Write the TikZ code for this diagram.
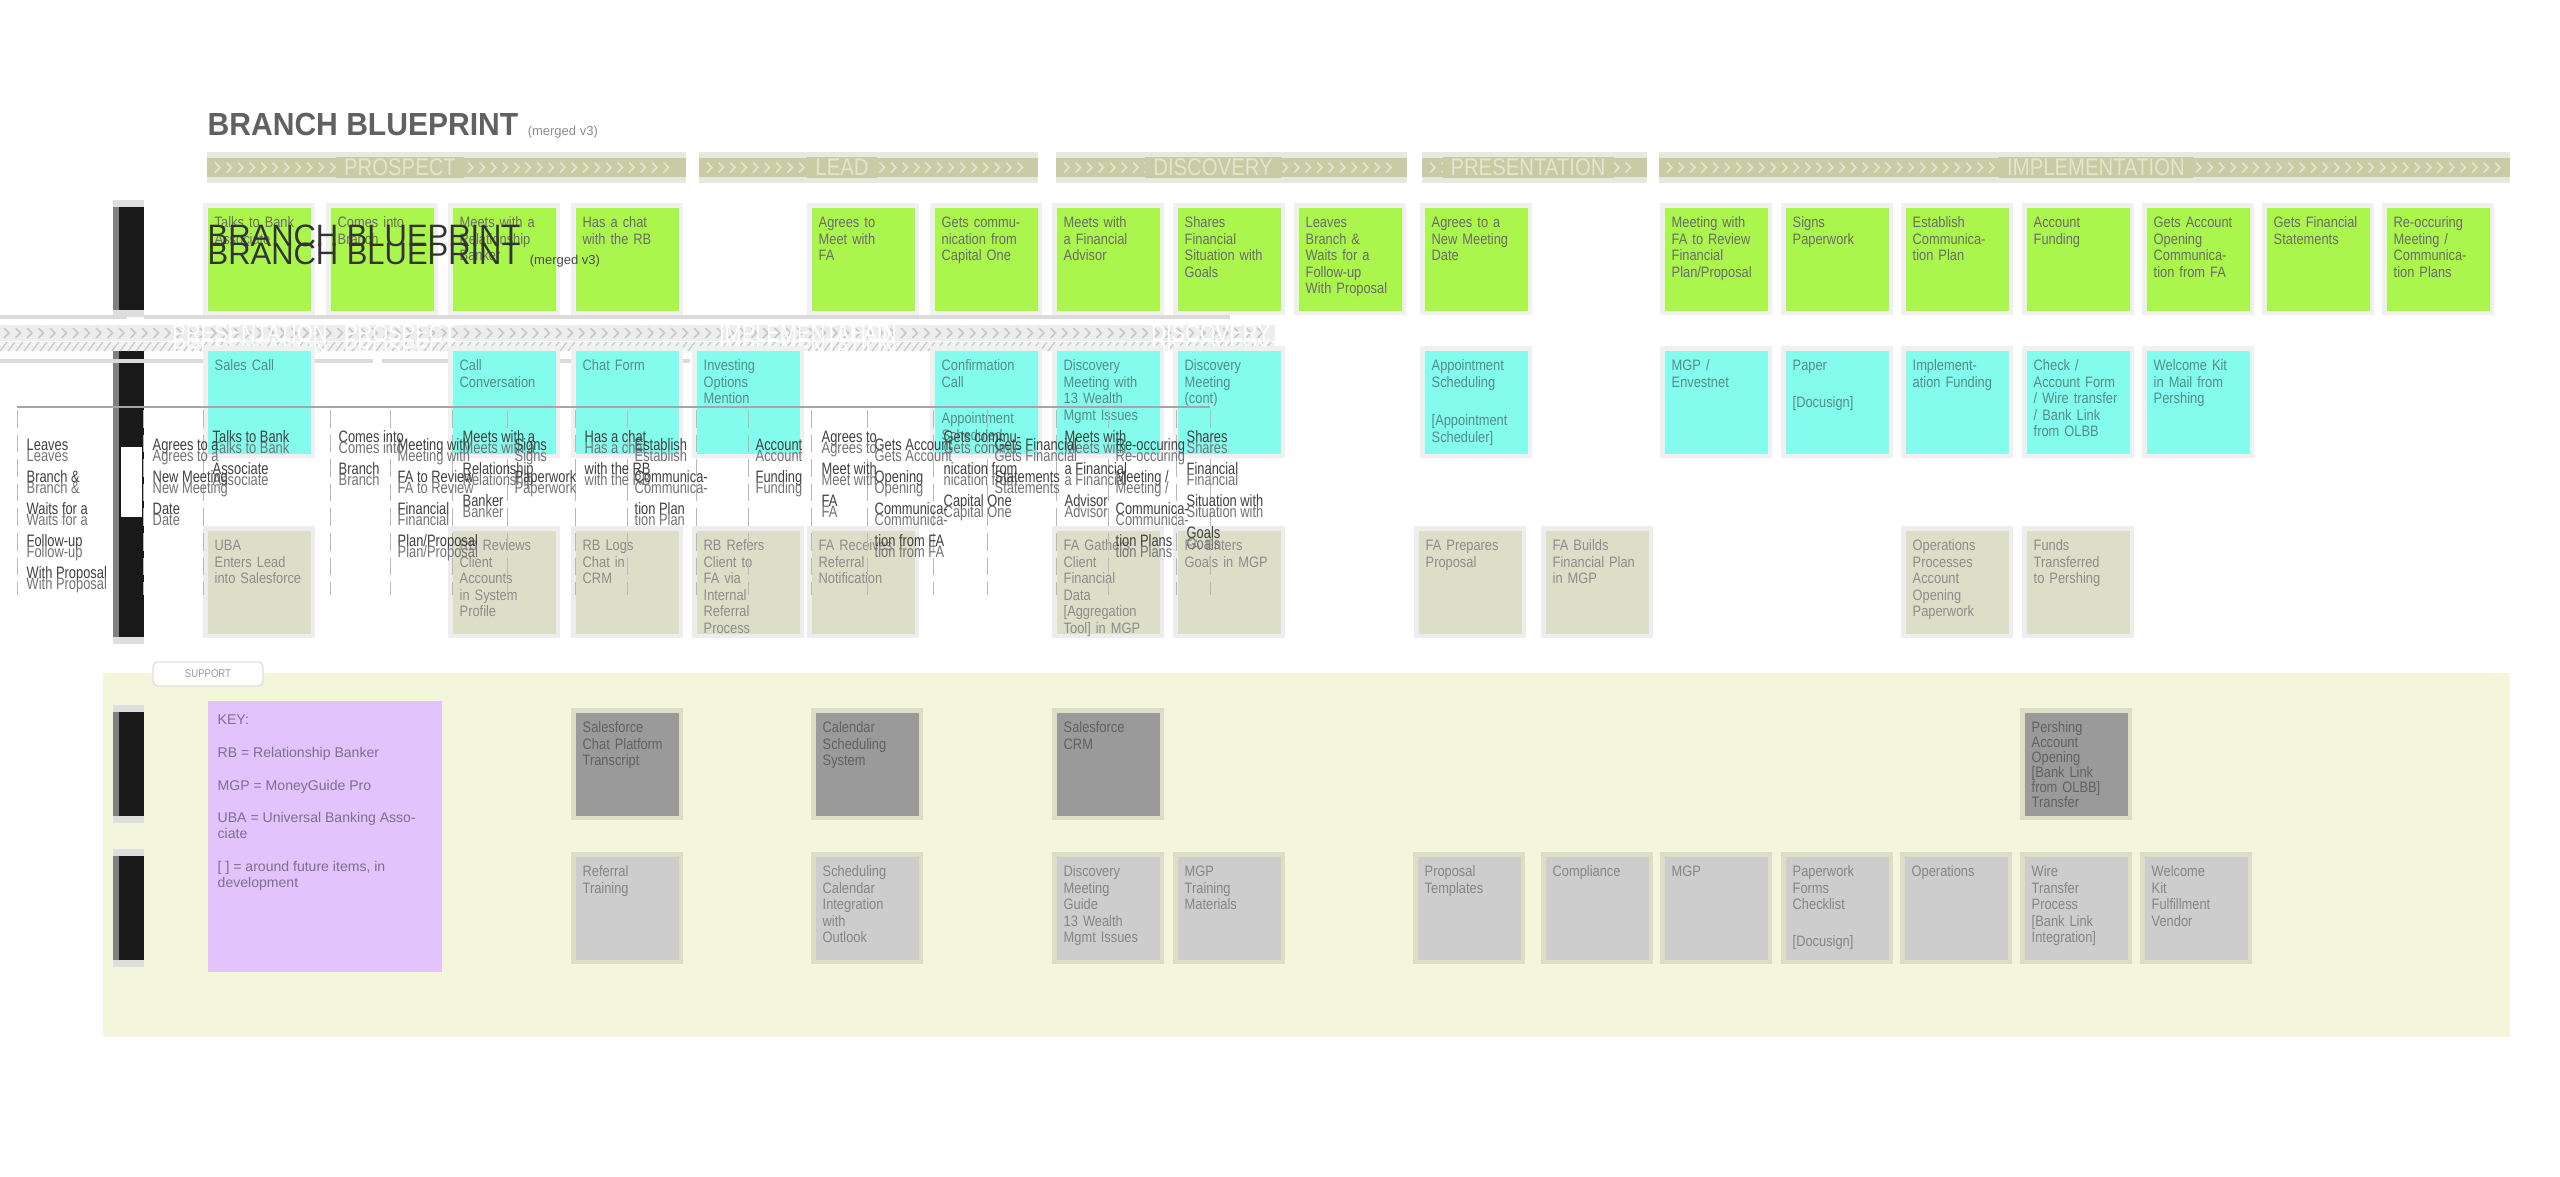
\documentclass[tikz,border=0pt]{standalone}
\usepackage{fontspec}
\setmainfont{Liberation Sans}
\newfontfamily\condfont[FakeStretch=0.78]{Liberation Sans}
\newfontfamily\barfont[FakeStretch=0.85]{Liberation Sans}
\newfontfamily\titlefont[FakeStretch=0.94]{Liberation Sans}

\definecolor{notegreen}{HTML}{ABF64C}
\definecolor{notecyan}{HTML}{83FCEE}
\definecolor{notebeige}{HTML}{DCDEC8}
\definecolor{notedark}{HTML}{9A9A9A}
\definecolor{notelight}{HTML}{CDCDCD}
\definecolor{notepurple}{HTML}{E2C3FC}
\definecolor{laneyellow}{HTML}{F3F6DA}
\definecolor{barolive}{HTML}{C9CBA5}
\definecolor{barframe}{HTML}{E7E8E0}
\definecolor{bartext}{HTML}{E3E5CD}
\definecolor{cyantext}{HTML}{548D88}
\definecolor{keytext}{HTML}{7E6F8F}

\newcommand{\notefont}{\barfont\fontsize{4.3}{4.7}\selectfont}
\newcommand{\echofont}{\condfont\fontsize{4.7}{9.1}\selectfont}

% phase bar: name, left, right, label, label centre
\newcommand{\phasebar}[5]{%
  \fill[barframe] (#2,152) rectangle (#3,183);
  \fill[barolive] (#2,158) rectangle (#3,177);
  \pgfmathsetmacro{\chevfirst}{#2+8}%
  \pgfmathsetmacro{\chevsecond}{#2+19.5}%
  \pgfmathsetmacro{\chevlast}{#3-12}%
  \foreach \x in {\chevfirst,\chevsecond,...,\chevlast}
    \draw[chevron] (\x,162.5) -- ++(5,5) -- ++(-5,5);
  \node[phase] (#1) at (#5,167.5) {#4};}

% text printed twice, a little apart
\newcommand{\echotext}[4]{%
  \node[echo] (#1) at (#2,#3) {#4};
  \node[echo,text=black!55] (#1b) at (#2,#3+11) {#4};}

\begin{document}
\begin{tikzpicture}[x=0.1mm,y=-0.1mm]
  \tikzstyle{note}=[anchor=north west,inner sep=0.7mm,text width=8.9mm,align=left,text height=1.3mm,text depth=7.6mm,font=\notefont]
  \tikzstyle{green note}=[note,fill=notegreen,text=black!58,preaction={draw=black!6,line width=0.9mm}]
  \tikzstyle{cyan note}=[note,fill=notecyan,text=cyantext,preaction={draw=black!6,line width=0.9mm}]
  \tikzstyle{beige note}=[note,fill=notebeige,text=black!45,preaction={draw=black!7,line width=0.9mm}]
  \tikzstyle{dark note}=[note,fill=notedark,text=black!62,preaction={draw=black!10!laneyellow,line width=0.9mm}]
  \tikzstyle{light note}=[note,fill=notelight,text=black!48,preaction={draw=black!10!laneyellow,line width=0.9mm}]
  \tikzstyle{phase}=[fill=barolive,text=bartext,inner xsep=0.8mm,inner ysep=0.2mm,font=\barfont\fontsize{6.8}{7}\selectfont]
  \tikzstyle{chevron}=[draw=bartext,line width=0.45pt]
  \tikzstyle{ghost label}=[text=white,inner sep=0,font=\barfont\fontsize{6.8}{7}\selectfont]
  \tikzstyle{echo}=[anchor=north west,inner sep=0,align=left,text=black!75,font=\echofont]
  \tikzstyle{gridline}=[draw=black!28,line width=0.25pt,dash pattern=on 5pt off 2pt]
  \tikzstyle{lane}=[fill=black!90]
  \tikzstyle{lanecap}=[fill=black!13]

  \fill[white] (0,0) rectangle (2560,1176);
  \useasboundingbox (0,0) rectangle (2560,1176);

  % lower area
  \fill[laneyellow] (103,673) rectangle (2510,1037);
  \node[fill=white,draw=black!12,rounded corners=0.5mm,minimum width=11mm,minimum height=2.4mm,inner sep=0,font=\barfont\fontsize{3.2}{3.5}\selectfont,text=black!40] (pill) at (208,674) {SUPPORT};

  % title
  \node[anchor=west,inner sep=0,text=black!62,font=\titlefont\bfseries\fontsize{9.1}{10}\selectfont] (title) at (207,124) {BRANCH BLUEPRINT};
  \node[anchor=base west,inner sep=0,text=black!45,font=\fontsize{3.7}{4}\selectfont] (merged) at ([xshift=0.8mm]title.base east) {(merged v3)};

  % phases
  \phasebar{prospect}{207}{686}{PROSPECT}{400}
  \phasebar{lead}{699}{1038}{LEAD}{842}
  \phasebar{discovery}{1056}{1407}{DISCOVERY}{1213}
  \phasebar{presentation}{1422}{1647}{PRESENTATION}{1528}
  \phasebar{implementation}{1659}{2510}{IMPLEMENTATION}{2096}

  % lane markers
  \foreach \top/\bot in {207/310,350/637,712/816,856/960} {
    \fill[lanecap] (113,\top-7) rectangle (144,\bot+7);
    \fill[lane] (113,\top) rectangle (144,\bot);
    \fill[black!50] (113,\top) rectangle (119,\bot);
  }

  % customer actions
  \node[green note] (g1) at (207,207) {Talks to Bank\\Associate};
  \node[green note] (g2) at (330,207) {Comes into\\Branch};
  \node[green note] (g3) at (452,207) {Meets with a\\Relationship\\Banker};
  \node[green note] (g4) at (575,207) {Has a chat\\with the RB};
  \node[green note] (g5) at (811,207) {Agrees to\\Meet with\\FA};
  \node[green note] (g6) at (934,207) {Gets commu-\\nication from\\Capital One};
  \node[green note] (g7) at (1056,207) {Meets with\\a Financial\\Advisor};
  \node[green note] (g8) at (1177,207) {Shares\\Financial\\Situation with\\Goals};
  \node[green note] (g9) at (1298,207) {Leaves\\Branch \&\\Waits for a\\Follow-up\\With Proposal};
  \node[green note] (g10) at (1424,207) {Agrees to a\\New Meeting\\Date};
  \node[green note] (g11) at (1664,207) {Meeting with\\FA to Review\\Financial\\Plan/Proposal};
  \node[green note] (g12) at (1785,207) {Signs\\Paperwork};
  \node[green note] (g13) at (1905,207) {Establish\\Communica-\\tion Plan};
  \node[green note] (g14) at (2026,207) {Account\\Funding};
  \node[green note] (g15) at (2146,207) {Gets Account\\Opening\\Communica-\\tion from FA};
  \node[green note] (g16) at (2266,207) {Gets Financial\\Statements};
  \node[green note] (g17) at (2386,207) {Re-occuring\\Meeting /\\Communica-\\tion Plans};

  % ghost phase band
  \draw[black!14,line width=1pt] (0,317) -- (127,317) (144,317) -- (1230,317);
  \fill[black!7] (0,325) rectangle (1275,341);
  \foreach \x in {4,15.5,...,1268}
    \draw[black!22,line width=0.45pt] (\x,328) -- ++(5,5) -- ++(-5,5);
  \fill[black!5] (0,342) rectangle (1275,351);
  \foreach \x in {0,8,...,1268}
    \draw[black!20,line width=0.4pt] (\x,351) -- ++(7,-9);
  \draw[black!14,line width=1pt] (0,361) -- (373,361) (382,361) -- (690,361);
  \node[ghost label] (gpres) at (250,333) {PRESENTATION};
  \node[ghost label] (gpres2) at (250,347) {PRESENTATION};
  \node[ghost label] (gpros) at (400,333) {PROSPECT};
  \node[ghost label] (gpros2) at (400,347) {PROSPECT};
  \node[ghost label] (gimpl) at (808,333) {IMPLEMENTATION};
  \node[ghost label] (gimpl2) at (808,347) {IMPLEMENTATION};
  \node[ghost label] (glead) at (865,333) {LEAD};
  \node[ghost label] (gdisc) at (1211,333) {DISCOVERY};
  \node[ghost label] (gdisc2) at (1211,347) {DISCOVERY};

  % ghost title
  \node[anchor=west,inner sep=0,text=black!80,font=\fontsize{8.8}{9}\selectfont] (ghosttitle) at (207,236) {BRANCH BLUEPRINT};
  \node[anchor=west,inner sep=0,text=black!80,font=\fontsize{8.8}{9}\selectfont] (ghosttitle2) at (207,254) {BRANCH BLUEPRINT};
  \node[anchor=base west,inner sep=0,text=black!70,font=\fontsize{3.7}{4}\selectfont] (ghostmerged) at ([xshift=0.8mm]ghosttitle2.base east) {(merged v3)};

  % frontstage
  \node[cyan note] (c1) at (207,350) {Sales Call};
  \node[cyan note] (c2) at (452,350) {Call\\Conversation};
  \node[cyan note] (c3) at (575,350) {Chat Form};
  \node[cyan note] (c4) at (696,350) {Investing\\Options\\Mention};
  \node[cyan note] (c5) at (934,350) {Confirmation\\Call\\[2mm]Appointment\\Scheduled};
  \node[cyan note] (c6) at (1056,350) {Discovery\\Meeting with\\13 Wealth\\Mgmt Issues};
  \node[cyan note] (c7) at (1177,350) {Discovery\\Meeting\\(cont)};
  \node[cyan note] (c8) at (1424,350) {Appointment\\Scheduling\\[2.2mm]{[}Appointment\\Scheduler]};
  \node[cyan note] (c9) at (1664,350) {MGP /\\Envestnet};
  \node[cyan note] (c10) at (1785,350) {Paper\\[2mm]{[}Docusign]};
  \node[cyan note] (c11) at (1905,350) {Implement-\\ation Funding};
  \node[cyan note] (c12) at (2026,350) {Check /\\Account Form\\/ Wire transfer\\/ Bank Link\\from OLBB};
  \node[cyan note] (c13) at (2146,350) {Welcome Kit\\in Mail from\\Pershing};

  % backstage
  \node[beige note] (b1) at (207,530) {UBA\\Enters Lead\\into Salesforce};
  \node[beige note] (b2) at (452,530) {RB Reviews\\Client\\Accounts\\in System\\Profile};
  \node[beige note] (b3) at (575,530) {RB Logs\\Chat in\\CRM};
  \node[beige note] (b4) at (696,530) {RB Refers\\Client to\\FA via\\Internal\\Referral\\Process};
  \node[beige note] (b5) at (811,530) {FA Receives\\Referral\\Notification};
  \node[beige note] (b6) at (1056,530) {FA Gathers\\Client\\Financial\\Data\\{[}Aggregation\\Tool] in MGP};
  \node[beige note] (b7) at (1177,530) {FA Enters\\Goals in MGP};
  \node[beige note] (b8) at (1418,530) {FA Prepares\\Proposal};
  \node[beige note] (b9) at (1545,530) {FA Builds\\Financial Plan\\in MGP};
  \node[beige note] (b10) at (1905,530) {Operations\\Processes\\Account\\Opening\\Paperwork};
  \node[beige note] (b11) at (2026,530) {Funds\\Transferred\\to Pershing};

  % key
  \node[anchor=north west,fill=notepurple,inner sep=0,minimum width=23.4mm,minimum height=27.1mm] (keybox) at (207,700) {};
  \node[anchor=north west,inner sep=0,align=left,text=keytext,font=\fontsize{4}{4.55}\selectfont] (keytext) at (217,714) {KEY:\\[4.8pt]RB = Relationship Banker\\[4.8pt]MGP = MoneyGuide Pro\\[4.8pt]UBA = Universal Banking Asso-\\ciate\\[4.8pt]{[} ] = around future items, in\\development};

  % systems
  \node[dark note] (d1) at (575,712) {Salesforce\\Chat Platform\\Transcript};
  \node[dark note] (d2) at (815,712) {Calendar\\Scheduling\\System};
  \node[dark note] (d3) at (1056,712) {Salesforce\\CRM};
  \node[dark note,font=\barfont\fontsize{4.3}{4.25}\selectfont] (d4) at (2024,712) {Pershing\\Account\\Opening\\{[}Bank Link\\from OLBB]\\Transfer};

  % support
  \node[light note] (l1) at (575,856) {Referral\\Training};
  \node[light note] (l2) at (815,856) {Scheduling\\Calendar\\Integration\\with\\Outlook};
  \node[light note] (l3) at (1056,856) {Discovery\\Meeting\\Guide\\13 Wealth\\Mgmt Issues};
  \node[light note] (l4) at (1177,856) {MGP\\Training\\Materials};
  \node[light note] (l5) at (1417,856) {Proposal\\Templates};
  \node[light note] (l6) at (1545,856) {Compliance};
  \node[light note] (l7) at (1664,856) {MGP};
  \node[light note] (l8) at (1785,856) {Paperwork\\Forms\\Checklist\\[2mm]{[}Docusign]};
  \node[light note] (l9) at (1904,856) {Operations};
  \node[light note] (l10) at (2024,856) {Wire\\Transfer\\Process\\{[}Bank Link\\Integration]};
  \node[light note] (l11) at (2144,856) {Welcome\\Kit\\Fulfillment\\Vendor};

  % stray grid and texts on top
  \fill[white] (121,447) rectangle (142,517);
  \fill[white] (153,487) rectangle (261,505);
  \draw[black!35,line width=0.3pt] (17,407) -- (1210,407);
  \foreach \x in {17,143,203,330,390,452,507,575,627,696,748,811,867,933,987,1056,1108,1176,1210}
    \draw[gridline] (\x,410) -- (\x,595);
  \echotext{e1}{212}{430}{Talks to Bank\\Associate}
  \echotext{e2}{338}{430}{Comes into\\Branch}
  \echotext{e3}{462}{430}{Meets with a\\Relationship\\Banker}
  \echotext{e4}{584}{430}{Has a chat\\with the RB}
  \echotext{e5}{821}{430}{Agrees to\\Meet with\\FA}
  \echotext{e6}{943}{430}{Gets commu-\\nication from\\Capital One}
  \echotext{e7}{1064}{430}{Meets with\\a Financial\\Advisor}
  \echotext{e8}{1186}{430}{Shares\\Financial\\Situation with\\Goals}
  \echotext{e9}{26}{438}{Leaves\\Branch \&\\Waits for a\\Follow-up\\With Proposal}
  \echotext{e10}{152}{438}{Agrees to a\\New Meeting\\Date}
  \echotext{e11}{397}{438}{Meeting with\\FA to Review\\Financial\\Plan/Proposal}
  \echotext{e12}{514}{438}{Signs\\Paperwork}
  \echotext{e13}{634}{438}{Establish\\Communica-\\tion Plan}
  \echotext{e14}{755}{438}{Account\\Funding}
  \echotext{e15}{874}{438}{Gets Account\\Opening\\Communica-\\tion from FA}
  \echotext{e16}{994}{438}{Gets Financial\\Statements}
  \echotext{e17}{1115}{438}{Re-occuring\\Meeting /\\Communica-\\tion Plans}
\end{tikzpicture}
\end{document}
